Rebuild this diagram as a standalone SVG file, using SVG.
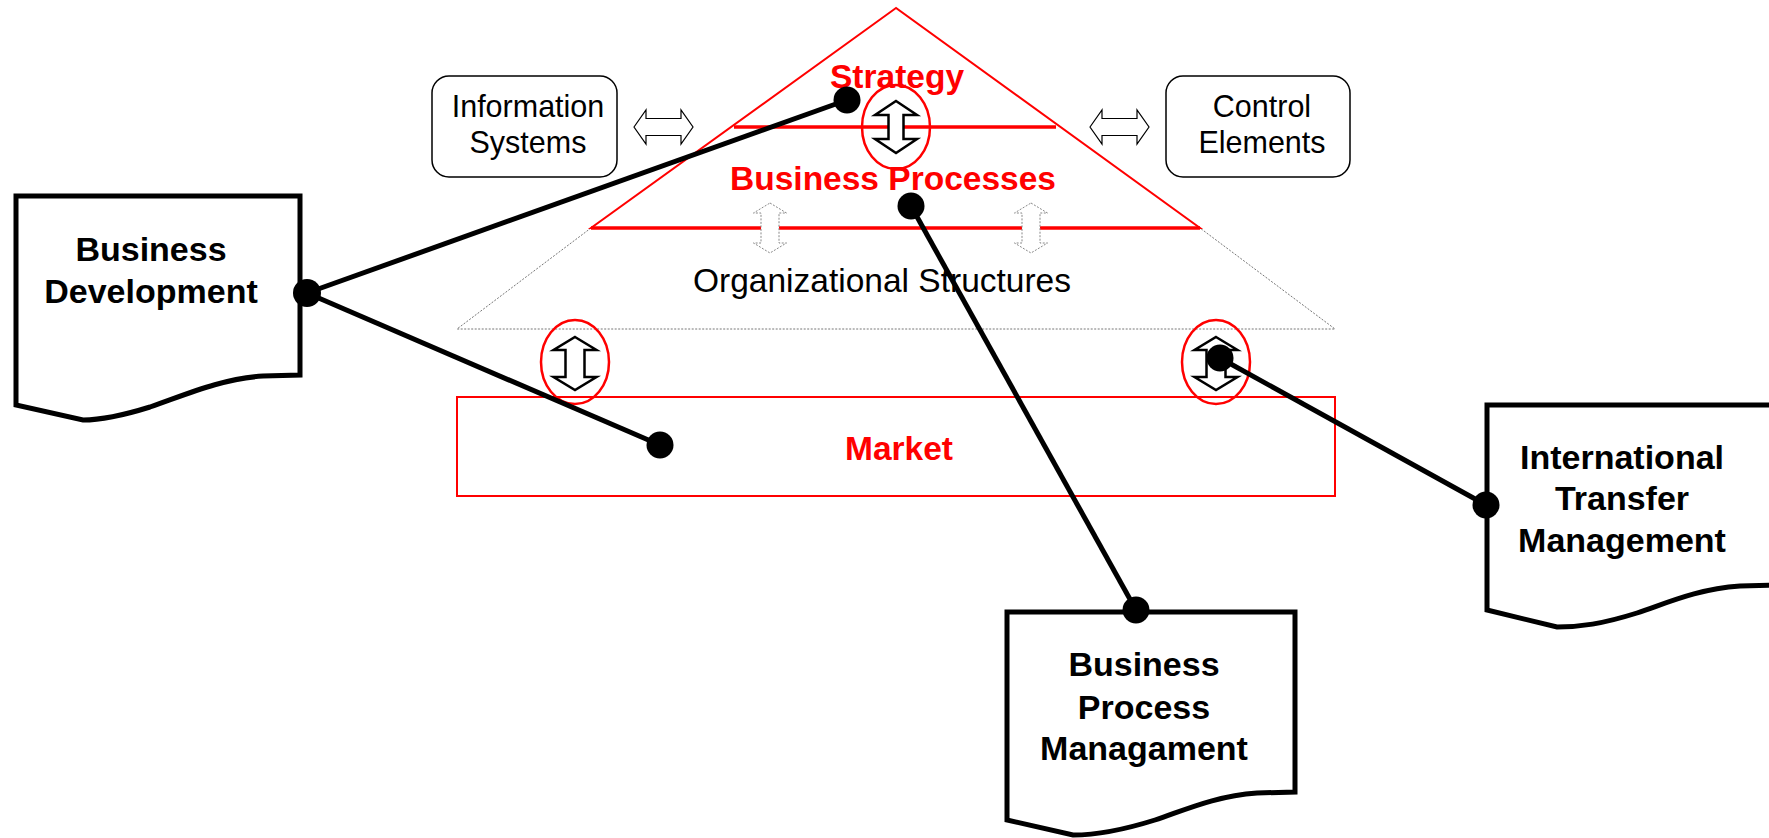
<svg xmlns="http://www.w3.org/2000/svg" width="1769" height="838" viewBox="0 0 1769 838">
<style>
.doc{fill:#fff;stroke:#000;stroke-width:5;stroke-linejoin:miter}
.dtxt{font-family:"Liberation Sans",Arial,sans-serif;font-weight:bold;font-size:34px;fill:#000;text-anchor:middle}
.rtxt{font-family:"Liberation Sans",Arial,sans-serif;font-weight:bold;font-size:33.5px;fill:#f00;text-anchor:middle}
.ntxt{font-family:"Liberation Sans",Arial,sans-serif;font-size:30.5px;fill:#000;text-anchor:middle}
.otxt{font-family:"Liberation Sans",Arial,sans-serif;font-size:33.5px;fill:#000;text-anchor:middle}
.box{fill:#fff;stroke:#000;stroke-width:1.5}
.red{fill:none;stroke:#f00}
.gray{fill:none;stroke:#777;stroke-width:1;stroke-dasharray:2 1.5}
.barrow{fill:#fff;stroke:#000;stroke-width:2.5;stroke-linejoin:miter}
.tarrow{fill:#fff;stroke:#000;stroke-width:1.2}
.darrow{fill:#fff;stroke:#888;stroke-width:1;stroke-dasharray:2 1.5}
.con{stroke:#000;stroke-width:5;fill:none}
.dot{fill:#000}
</style>
<g id="pyramid">
<polyline class="gray" points="591,228 457,329 1335,329 1200,228"/>
<polygon class="red" stroke-width="2" points="896,8 591,228 1200,228"/>
<line class="red" stroke-width="3.5" x1="734" y1="127" x2="1056" y2="127"/>
<line class="red" stroke-width="3.5" x1="591" y1="228" x2="1200" y2="228"/>
<text class="rtxt" x="897" y="88">Strategy</text>
<text class="rtxt" x="893" y="190">Business Processes</text>
<text class="otxt" x="882" y="292">Organizational Structures</text>
<path class="darrow" d="M770,203 L786.5,213 L779,213 L779,243 L786.5,243 L770,253 L753.5,243 L761,243 L761,213 L753.5,213 Z"/>
<path class="darrow" d="M1031,203 L1047.5,213 L1040,213 L1040,243 L1047.5,243 L1031,253 L1014.5,243 L1022,243 L1022,213 L1014.5,213 Z"/>
<ellipse class="red" stroke-width="2.5" cx="896" cy="127" rx="34" ry="42"/>
<path class="barrow" d="M896,101 L917,115 L903.5,115 L903.5,139 L917,139 L896,153 L875,139 L888.5,139 L888.5,115 L875,115 Z"/>
</g>
<g id="market">
<rect class="red" stroke-width="2" x="457" y="397" width="878" height="99"/>
<text class="rtxt" x="899" y="460">Market</text>
<ellipse class="red" stroke-width="2.5" cx="575" cy="362" rx="34" ry="42"/>
<path class="barrow" d="M575,337 L596.5,350 L584.5,350 L584.5,377 L596.5,377 L575,390 L553.5,377 L565.5,377 L565.5,350 L553.5,350 Z"/>
<ellipse class="red" stroke-width="2.5" cx="1216" cy="362" rx="34" ry="42"/>
<path class="barrow" d="M1216,337 L1237.5,350 L1225.5,350 L1225.5,377 L1237.5,377 L1216,390 L1194.5,377 L1206.5,377 L1206.5,350 L1194.5,350 Z"/>
</g>
<g id="information-systems">
<rect class="box" x="432" y="76" width="185" height="101" rx="17"/>
<text class="ntxt" x="528" y="117">Information</text>
<text class="ntxt" x="528" y="153">Systems</text>
<path class="tarrow" d="M634,127 L646,110 L646,118.5 L681,118.5 L681,110 L693,127 L681,144 L681,135.5 L646,135.5 L646,144 Z"/>
</g>
<g id="control-elements">
<rect class="box" x="1166" y="76" width="184" height="101" rx="17"/>
<text class="ntxt" x="1262" y="117">Control</text>
<text class="ntxt" x="1262" y="153">Elements</text>
<path class="tarrow" d="M1090,127 L1102,110 L1102,118.5 L1137,118.5 L1137,110 L1149,127 L1137,144 L1137,135.5 L1102,135.5 L1102,144 Z"/>
</g>
<g id="business-development">
<path class="doc" d="M16,196 H300 V375 L263,376 C220,379 185,395 150,407 C118,417 100,420 83,420 L16,405 Z"/>
<text class="dtxt" x="151" y="261">Business</text>
<text class="dtxt" x="151" y="303">Development</text>
</g>
<g id="business-process-management">
<path class="doc" d="M1007,612 H1295 V792 L1257,793 C1215,796 1185,810 1155,820 C1120,831 1095,835 1073,835 L1007,820 Z"/>
<text class="dtxt" x="1144" y="676">Business</text>
<text class="dtxt" x="1144" y="719">Process</text>
<text class="dtxt" x="1144" y="760">Managament</text>
</g>
<g id="international-transfer-management">
<path class="doc" d="M1487,405 H1775 V585 L1740,586 C1697,589 1667,603 1637,613 C1602,624 1580,627 1557,627 L1487,610 Z"/>
<text class="dtxt" x="1622" y="469">International</text>
<text class="dtxt" x="1622" y="510">Transfer</text>
<text class="dtxt" x="1622" y="552">Management</text>
</g>
<g id="connectors">
<line class="con" x1="307" y1="293" x2="847" y2="100"/>
<line class="con" x1="307" y1="293" x2="660" y2="445"/>
<line class="con" x1="911" y1="206" x2="1136" y2="610"/>
<line class="con" x1="1220" y1="358" x2="1486" y2="505"/>
<circle class="dot" cx="307" cy="293" r="14"/>
<circle class="dot" cx="847" cy="100" r="13.5"/>
<circle class="dot" cx="660" cy="445" r="13.5"/>
<circle class="dot" cx="911" cy="206" r="13.5"/>
<circle class="dot" cx="1136" cy="610" r="13.5"/>
<circle class="dot" cx="1220" cy="358" r="13.5"/>
<circle class="dot" cx="1486" cy="505" r="13.5"/>
</g>
</svg>
